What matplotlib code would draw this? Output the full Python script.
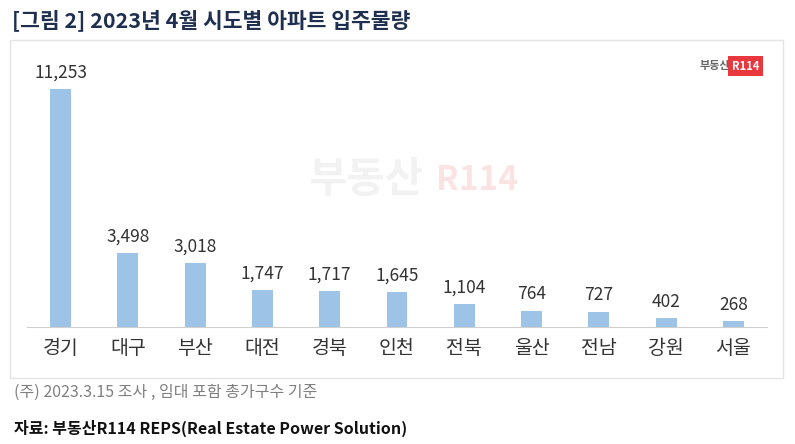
import matplotlib.pyplot as plt
from matplotlib.patches import Rectangle

plt.rcParams["font.family"] = "Noto Sans CJK KR"

regions = ["경기", "대구", "부산", "대전", "경북", "인천", "전북", "울산", "전남", "강원", "서울"]
values = [11253, 3498, 3018, 1747, 1717, 1645, 1104, 764, 727, 402, 268]

W, H = 795, 444
fig = plt.figure(figsize=(W / 100, H / 100), dpi=100)

# chart frame
fig.patches.append(Rectangle((10 / W, 1 - 378 / H), 773 / W, 338 / H, transform=fig.transFigure,
                             fill=False, edgecolor="#e4e4e4", lw=1))

ax = fig.add_axes([27 / W, 1 - 327 / H, 740 / W, 272 / H])
x = range(len(regions))
ax.bar(x, values, width=0.31, color="#9dc3e6", zorder=2)
for i, v in zip(x, values):
    ax.text(i, v + 350, f"{v:,}", ha="center", va="bottom", fontsize=12.5, color="#333333")
ax.set_xlim(-0.5, len(regions) - 0.5)
ax.set_ylim(0, 11253 * 272 / 238)
ax.set_xticks(list(x), regions, fontsize=14, color="#333333")
ax.tick_params(axis="x", length=0, pad=8)
ax.set_yticks([])
ax.patch.set_alpha(0)
for s in ["top", "right", "left"]:
    ax.spines[s].set_visible(False)
ax.spines["bottom"].set_color("#d0d0d0")

# watermark
fig.text(0.46, 1 - 180 / H, "부동산", fontsize=30, fontweight="bold", color="#f2f2f2",
         ha="center", va="center", zorder=0)
fig.text(0.6, 1 - 180 / H, "R114", fontsize=24, fontweight="bold", color="#fbe3e3",
         ha="center", va="center", zorder=0)

# logo
fig.text(730 / W, 1 - 66 / H, "부동산", fontsize=8, color="#666666", ha="right", va="center", fontweight="bold")
fig.text(732 / W, 1 - 66 / H, "R114", fontsize=8, color="white", ha="left", va="center", fontweight="bold",
         bbox=dict(boxstyle="square,pad=0.35", fc="#e8383d", ec="none"))

fig.text(12 / W, 1 - 20 / H, "[그림 2] 2023년 4월 시도별 아파트 입주물량", fontsize=15.5, fontweight="bold",
         color="#1f2f4f", va="center")
fig.text(14 / W, 1 - 392 / H, "(주) 2023.3.15 조사 , 임대 포함 총가구수 기준", fontsize=11.5, color="#808080", va="center")
fig.text(14 / W, 1 - 428 / H, "자료: 부동산R114 REPS(Real Estate Power Solution)", fontsize=11.5, fontweight="bold",
         color="#111111", va="center")

fig.savefig("out.png", dpi=100)
